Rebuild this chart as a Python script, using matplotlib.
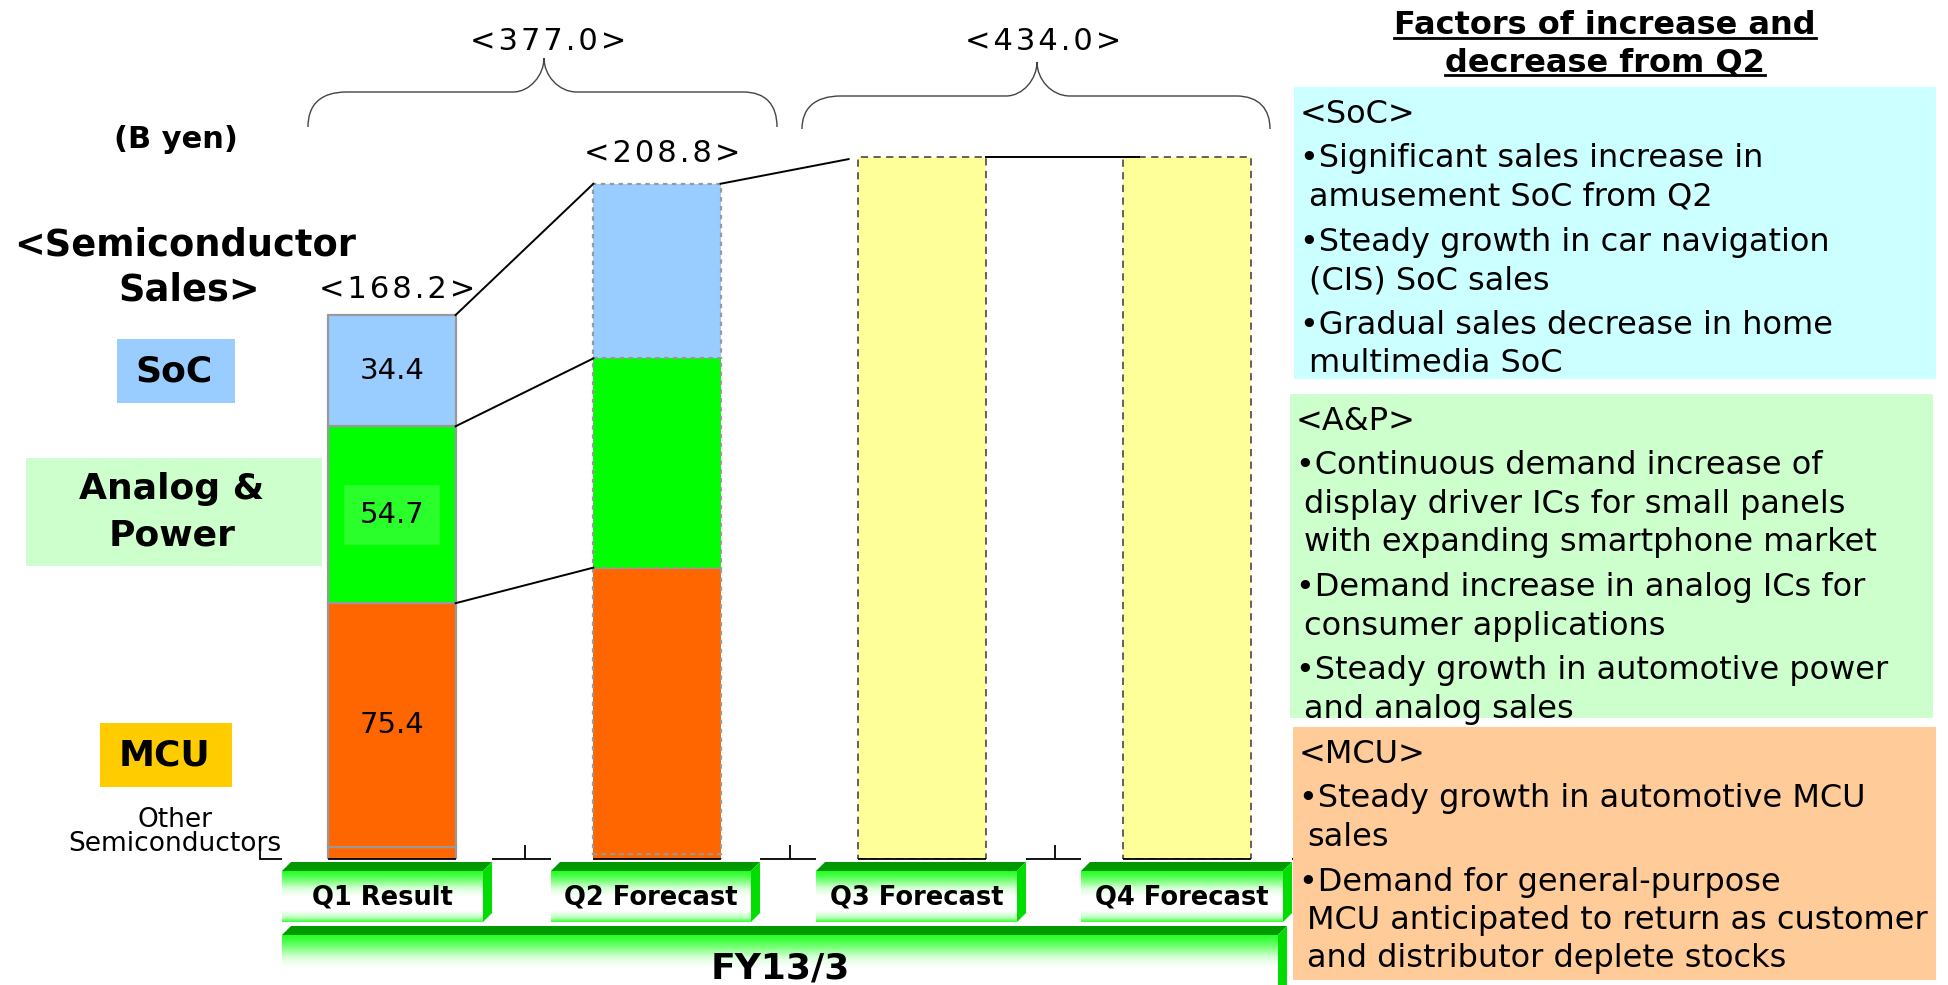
import numpy as np
import matplotlib
matplotlib.use("Agg")
import matplotlib.pyplot as plt
from matplotlib.patches import Rectangle, Polygon, PathPatch
from matplotlib.path import Path
from matplotlib.colors import LinearSegmentedColormap

W, H = 1948, 985

quarters = ["Q1 Result", "Q2 Forecast", "Q3 Forecast", "Q4 Forecast"]
fiscal_year = "FY13/3"

# semiconductor sales by segment, B yen (Q1 result, Q2 forecast)
other_semi = [3.7, 1.4]
mcu = [75.4, 88.7]
analog_power = [54.7, 64.7]
soc = [34.4, 54.0]
# second half forecast, totals only
h2_forecast = [217.0, 217.0]

segment_labels = ["SoC", "Analog &\nPower", "MCU"]
segment_colors = {"soc": "#99CCFF", "ap": "#00FF00", "mcu": "#FF6600"}

soc_factors = [
    ["Significant sales increase in", "amusement SoC from Q2"],
    ["Steady growth in car navigation", "(CIS) SoC sales"],
    ["Gradual sales decrease in home", "multimedia SoC"],
]
ap_factors = [
    ["Continuous demand increase of", "display driver ICs for small panels",
     "with expanding smartphone market"],
    ["Demand increase in analog ICs for", "consumer applications"],
    ["Steady growth in automotive power", "and analog sales"],
]
mcu_factors = [
    ["Steady growth in automotive MCU", "sales"],
    ["Demand for general-purpose", "MCU anticipated to return as customer",
     "and distributor deplete stocks"],
]

FONT = "DejaVu Sans"
plt.rcParams["font.family"] = [FONT]
NUM_SIZE = 22
PANEL_SIZE = 23


def spaced(s):
    # loose letter spacing used for the totals
    return "\u200a".join(s)


fig = plt.figure(figsize=(W / 100, H / 100), dpi=100)

# main bar axes: x -0.5..3.5 maps to px 259.5..1319.5, baseline at px 859
ax = fig.add_axes([259.5 / W, (H - 859) / H, 1060 / W, 808.5 / H])
ax.set_xlim(-0.5, 3.5)
ax.set_ylim(0, 250)
ax.set_facecolor("none")

# full-figure overlay in pixel coordinates for the slide decorations
ov = fig.add_axes([0, 0, 1, 1])
ov.set_facecolor("none")
ov.axis("off")

bar_w = 0.48
x_h1 = np.array([0, 1])
stack = [np.array(other_semi), np.array(mcu), np.array(analog_power), np.array(soc)]
stack_colors = [segment_colors["mcu"], segment_colors["mcu"], segment_colors["ap"], segment_colors["soc"]]

bottom = np.zeros(2)
for vals, col in zip(stack, stack_colors):
    bars = ax.bar(x_h1, vals, bar_w, bottom=bottom, color=col, zorder=3)
    bars[0].set(edgecolor="#999999", linewidth=1.6)
    bars[1].set(edgecolor="#999999", linewidth=1.6, linestyle=(0, (2, 2)))
    bottom = bottom + vals
totals_h1 = bottom

ax.bar([2, 3], h2_forecast, bar_w, color="#FFFF99", edgecolor="#555555",
       linewidth=1.3, linestyle=(0, (4, 3)), zorder=3)

# black line under each bar along the baseline
xs = np.arange(4)
ax.hlines(np.zeros(4), xs - bar_w / 2, xs + bar_w / 2,
          color="black", lw=1.3, zorder=3.5, clip_on=False)

# connectors between Q1 and Q2 segment boundaries
cum = np.cumsum(stack, axis=0)
for lvl in cum[1:]:
    ax.plot([bar_w / 2, 1 - bar_w / 2], lvl, color="black", lw=1.4, zorder=4)
# Q2 top to Q3 top, stopping just short of the Q3 bar
x_a, x_b = 1 + bar_w / 2, 2 - bar_w / 2
x_end = x_b - 0.037
y_end = totals_h1[1] + (h2_forecast[0] - totals_h1[1]) * (x_end - x_a) / (x_b - x_a)
ax.plot([x_a, x_end], [totals_h1[1], y_end], color="black", lw=1.4, zorder=4)
ax.plot([2 + bar_w / 2, 3 - bar_w / 2 + 0.06], h2_forecast, color="black", lw=1.4, zorder=4)

# values inside the Q1 segments
seg_mid = cum[1:, 0] - np.array([mcu[0], analog_power[0], soc[0]]) / 2
for val, y in zip([mcu[0], analog_power[0], soc[0]], seg_mid):
    kw = {}
    if val == analog_power[0]:
        kw["bbox"] = dict(boxstyle="square,pad=0.55", fc="#2BFF2B", ec="none")
    ax.text(0, y, f"{val:.1f}", ha="center", va="center",
            fontsize=21, zorder=5, **kw)

# quarter totals above the bars
for xi, tot, dy in zip(x_h1, totals_h1, [12, 16]):
    ax.annotate(spaced(f"<{tot:.1f}>"), (xi, tot), xytext=(4, dy),
                textcoords="offset points", ha="center", va="baseline",
                fontsize=NUM_SIZE, zorder=5)

for s in ["top", "right", "left"]:
    ax.spines[s].set_visible(False)
ax.spines["bottom"].set(color="black", linewidth=1.3)
ax.set_yticks([])
ax.set_xticks([-0.5, 0.5, 1.5, 2.5, 3.5])
ax.tick_params(axis="x", direction="in", length=10, width=1.3, labelbottom=False)


# ---- braces with half-year totals ----
def brace(x0, x1, xc, yb, yh, yp):
    verts = [(x0, yb), (x0, yh + 13), (x0 + 12, yh), (x0 + 39, yh),
             (xc - 31, yh), (xc - 14, yh), (xc, yh - 17), (xc, yp),
             (xc, yh - 17), (xc + 14, yh), (xc + 33, yh),
             (x1 - 34, yh), (x1 - 11, yh), (x1, yh + 13), (x1, yb)]
    codes = [Path.MOVETO, Path.CURVE4, Path.CURVE4, Path.CURVE4,
             Path.LINETO, Path.CURVE4, Path.CURVE4, Path.CURVE4,
             Path.CURVE4, Path.CURVE4, Path.CURVE4,
             Path.LINETO, Path.CURVE4, Path.CURVE4, Path.CURVE4]
    ov.add_patch(PathPatch(Path(verts, codes), fc="none", ec="#444444", lw=1.0))


brace(308, 777, 544, 127, 92, 58)
brace(802, 1270, 1037, 129, 96, 62)
ov.text(548, 42, spaced(f"<{totals_h1.sum():.1f}>"), ha="center", va="center", fontsize=NUM_SIZE)
ov.text(1043, 41, spaced(f"<{sum(h2_forecast):.1f}>"), ha="center", va="center", fontsize=NUM_SIZE)

# ---- left-hand labels ----
ov.text(176, 140, "(B yen)", ha="center", va="center", fontsize=22, fontweight="bold")
ov.text(185, 245, "<Semiconductor", ha="center", va="center", fontsize=26.5, fontweight="bold")
ov.text(189, 290, "Sales>", ha="center", va="center", fontsize=26.5, fontweight="bold")

label_boxes = [(117, 339, 118, 64, segment_colors["soc"]),
               (26, 458, 296, 108, "#CCFFCC"),
               (100, 723, 132, 64, "#FFCC00")]
for (bx, by, bw, bh, fc), lab in zip(label_boxes, segment_labels):
    ov.add_patch(Rectangle((bx, by), bw, bh, fc=fc, ec="none"))
    lines = lab.split("\n")
    cy = by + bh / 2
    for i, ln in enumerate(lines):
        yy = cy + (i - (len(lines) - 1) / 2) * 46
        ov.text(bx + bw / 2 - 2, yy, ln, ha="center", va="center",
                fontsize=26, fontweight="bold")

ov.text(175, 820, "Other", ha="center", va="center", fontsize=19)
ov.text(175, 844, "Semiconductors", ha="center", va="center", fontsize=19)

# ---- green 3D category buttons ----
btn_cmap = LinearSegmentedColormap.from_list(
    "btn", [(0, "#22FF22"), (0.15, "#66FF66"), (0.35, "#DDFFDD"), (0.5, "#FFFFFF"),
            (0.78, "#FFFFFF"), (0.92, "#BBFFBB"), (1, "#33FF33")])
grad = np.linspace(0, 1, 128)[:, None]


def button(x0, x1, yt, yb, text, size, d=9):
    ov.imshow(grad, cmap=btn_cmap, extent=(x0, x1 - d, yb, yt + d),
              aspect="auto", interpolation="bicubic", zorder=2)
    ov.add_patch(Polygon([(x0, yt + d), (x0 + d, yt), (x1, yt), (x1 - d, yt + d)],
                         closed=True, fc="#009900", ec="none", zorder=3))
    ov.add_patch(Polygon([(x1 - d, yt + d), (x1, yt), (x1, yb - d), (x1 - d, yb)],
                         closed=True, fc="#00DD00", ec="none", zorder=3))
    ov.text((x0 + x1 - d) / 2, (yt + d + yb) / 2 + 1, text, ha="center", va="center",
            fontsize=size, fontweight="bold", zorder=4)


btn_x = [(282, 492), (551, 760), (816, 1026), (1081, 1292)]
for (bx0, bx1), q in zip(btn_x, quarters):
    button(bx0, bx1, 862, 922, q, 18.5)
    # white margin of the button art hides the baseline
    ax.add_patch(Rectangle((bx0, 856.8), bx1 - bx0, 5.2, transform=ov.transData,
                           fc="white", ec="none", zorder=2.7, clip_on=False))
button(282, 1287, 926, 1000, fiscal_year, 26)

# ---- factor panels on the right ----
panels = [
    ((1294, 87, 642, 292), "#CCFFFF", "<SoC>", soc_factors, 1300, 1309),
    ((1290, 394, 643, 324), "#CCFFCC", "<A&P>", ap_factors, 1296, 1304),
    ((1293, 727, 643, 253), "#FFCC99", "<MCU>", mcu_factors, 1299, 1307),
]
for (px, py, pw, ph), fc, head, items, xb, xc in panels:
    ov.add_patch(Rectangle((px, py), pw, ph, fc=fc, ec="none", zorder=5))
    y = py + 36
    ov.text(xb, y, head, ha="left", va="baseline", fontsize=PANEL_SIZE, zorder=6)
    y += 44
    for item in items:
        for j, ln in enumerate(item):
            if j == 0:
                ov.text(xb, y, "\u2022" + ln, ha="left", va="baseline",
                        fontsize=PANEL_SIZE, zorder=6)
            else:
                ov.text(xc, y, ln, ha="left", va="baseline",
                        fontsize=PANEL_SIZE, zorder=6)
            y += 38.5
        y += 6.5

titles = [ov.text(1605, 34.5, "Factors of increase and", ha="center", va="baseline",
                  fontsize=23, fontweight="bold"),
          ov.text(1605, 71.5, "decrease from Q2", ha="center", va="baseline",
                  fontsize=23, fontweight="bold")]

ov.set_xlim(0, W)
ov.set_ylim(H, 0)

# underline the panel title
fig.canvas.draw()
for t, base in zip(titles, [34.5, 71.5]):
    bb = t.get_window_extent()
    ov.plot([bb.x0, bb.x1], [base + 3, base + 3], color="black", lw=2)
ov.set_xlim(0, W)
ov.set_ylim(H, 0)

fig.savefig("out.png", dpi=100, facecolor="white")
